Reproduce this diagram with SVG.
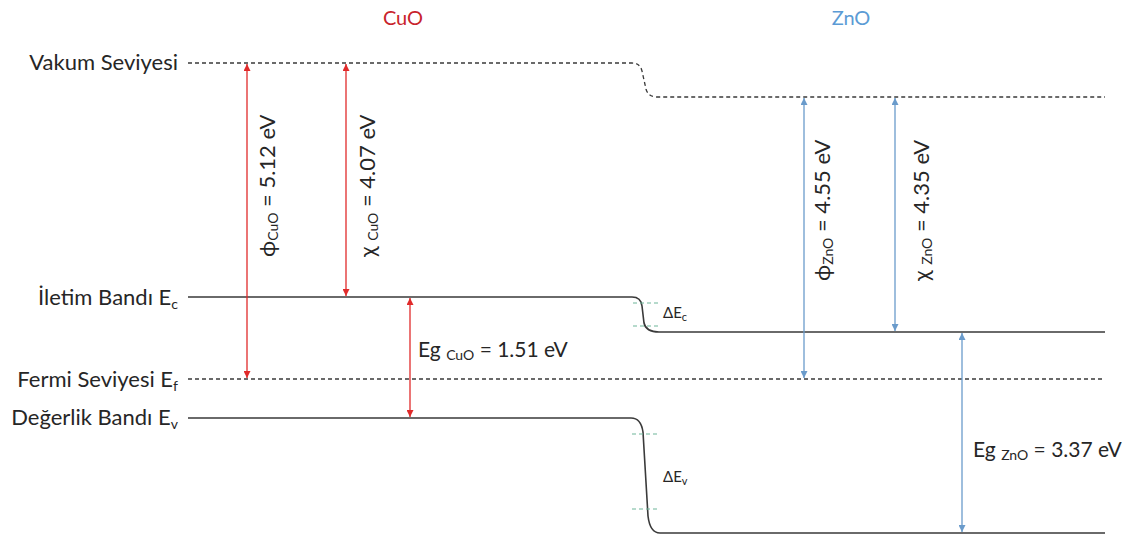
<svg xmlns="http://www.w3.org/2000/svg" width="1133" height="540" viewBox="0 0 1133 540">
<style>
text{font-family:Lato,"Liberation Sans","DejaVu Sans",sans-serif;fill:#262626}
.lbl{font-size:21px}
.big{font-size:22px}
.ttl{font-size:20px}
.sub{font-size:14px}
.band{fill:none;stroke:#3a3a3a;stroke-width:1.6}
.dash{fill:none;stroke:#3a3a3a;stroke-width:1.3;stroke-dasharray:4 3}
.tick{fill:none;stroke:#6fb59a;stroke-width:1.2;stroke-dasharray:4 3}
.red{stroke:#e02a2a;stroke-width:1.3;marker-start:url(#ar);marker-end:url(#ar)}
.blue{stroke:#6a9bcb;stroke-width:1.3;marker-start:url(#ab);marker-end:url(#ab)}
</style>
<defs>
<marker id="ar" viewBox="0 0 10 10" refX="10" refY="5" markerWidth="7" markerHeight="7" markerUnits="userSpaceOnUse" orient="auto-start-reverse"><path d="M0,0 L10,5 L0,10z" fill="#e02a2a"/></marker>
<marker id="ab" viewBox="0 0 10 10" refX="10" refY="5" markerWidth="7" markerHeight="7" markerUnits="userSpaceOnUse" orient="auto-start-reverse"><path d="M0,0 L10,5 L0,10z" fill="#6a9bcb"/></marker>
</defs>
<rect width="1133" height="540" fill="#fff"/>

<g id="titles">
<text x="403" y="25" text-anchor="middle" class="ttl" style="fill:#c8232b">CuO</text>
<text x="851" y="25" text-anchor="middle" class="ttl" style="fill:#5b9bd5">ZnO</text>
</g>

<g id="levels">
<path id="vacuum" class="dash" d="M188,63 H632 Q640,63 642,71 L646,89 Q648,97 657,97 H1105"/>
<path id="ec" class="band" d="M188,297 H632 Q641,297 642,306 L644,323 Q646,332 659,332 H1105"/>
<path id="ef" class="dash" d="M188,379 H1105"/>
<path id="ev" class="band" d="M188,418 H631 Q641,418 643,432 L648,516 Q650,533 660,533 H1105"/>
<path class="tick" d="M633,303 H659 M633,326 H659 M632,434 H658 M632,509 H658"/>
</g>

<g id="level-labels" class="big" text-anchor="end">
<text x="178" y="70">Vakum Seviyesi</text>
<text x="178" y="305">İletim Bandı E<tspan class="sub" dy="4">c</tspan></text>
<text x="178" y="387">Fermi Seviyesi E<tspan class="sub" dy="4">f</tspan></text>
<text x="178" y="425">Değerlik Bandı E<tspan class="sub" dy="4">v</tspan></text>
</g>

<g id="connectors">
<line class="red" x1="247" y1="64" x2="247" y2="378"/>
<line class="red" x1="346" y1="64" x2="346" y2="296"/>
<line class="red" x1="410" y1="298" x2="410" y2="417"/>
<line class="blue" x1="804" y1="98" x2="804" y2="378"/>
<line class="blue" x1="895" y1="98" x2="895" y2="331"/>
<line class="blue" x1="962" y1="333" x2="962" y2="532"/>
</g>

<g id="phi-cuo"><text class="big" transform="translate(275,257) rotate(-90)">ϕ<tspan class="sub" dy="3">CuO</tspan><tspan dy="-3"> = 5.12 eV</tspan></text></g>
<g id="chi-cuo"><text class="big" transform="translate(375,257) rotate(-90)">χ <tspan class="sub" dy="3">CuO</tspan><tspan dy="-3"> = 4.07 eV</tspan></text></g>
<g id="phi-zno"><text class="big" transform="translate(830,281) rotate(-90)">ϕ<tspan class="sub" dy="3">ZnO</tspan><tspan dy="-3"> = 4.55 eV</tspan></text></g>
<g id="chi-zno"><text class="big" transform="translate(929,281) rotate(-90)">χ <tspan class="sub" dy="3">ZnO</tspan><tspan dy="-3"> = 4.35 eV</tspan></text></g>

<g id="eg-cuo"><text class="lbl" x="418" y="357">Eg <tspan class="sub" dy="3">CuO</tspan><tspan dy="-3"> = 1.51 eV</tspan></text></g>
<g id="eg-zno"><text class="lbl" x="973" y="457">Eg <tspan class="sub" dy="3">ZnO</tspan><tspan dy="-3"> = 3.37 eV</tspan></text></g>

<g id="delta-ec"><text x="663" y="318" style="font-size:15px">ΔE<tspan style="font-size:11px" dy="3">c</tspan></text></g>
<g id="delta-ev"><text x="663" y="482" style="font-size:15px">ΔE<tspan style="font-size:11px" dy="3">v</tspan></text></g>
</svg>
